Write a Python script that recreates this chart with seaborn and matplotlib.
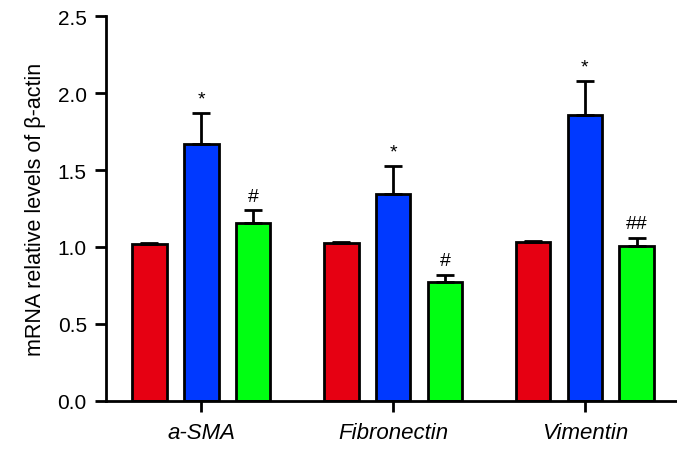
import pandas as pd
import seaborn as sns
import matplotlib.pyplot as plt

# Data
genes = ["a-SMA", "Fibronectin", "Vimentin"]
groups = ["Control", "Model", "Treatment"]
control = [1.02, 1.025, 1.03]
model = [1.67, 1.345, 1.855]
treatment = [1.155, 0.772, 1.005]
control_err = [0.006, 0.005, 0.007]
model_err = [0.20, 0.18, 0.225]
treatment_err = [0.085, 0.048, 0.055]
marks_model = ["*", "*", "*"]
marks_treatment = ["#", "#", "##"]

colors = ["#e60012", "#0039ff", "#00ff12"]

df = pd.DataFrame({
    "gene": genes * 3,
    "group": [g for g in groups for _ in genes],
    "value": control + model + treatment,
})

sns.set_style("ticks", {"axes.edgecolor": "black", "text.color": "black",
                        "axes.labelcolor": "black", "xtick.color": "black",
                        "ytick.color": "black"})
plt.rcParams["font.family"] = ["Liberation Sans", "DejaVu Sans"]

fig = plt.figure(figsize=(6.77, 4.52), dpi=100)
ax = fig.add_axes([0.157, 0.111, 0.843, 0.851])

sns.barplot(data=df, x="gene", y="value", hue="group", palette=colors,
            order=genes, hue_order=groups, errorbar=None, width=0.81, gap=0.33,
            edgecolor="black", linewidth=2, saturation=1, legend=False, ax=ax)

errs = [control_err, model_err, treatment_err]
marks = [None, marks_model, marks_treatment]
for cont, err, mk in zip(ax.containers, errs, marks):
    for i, bar in enumerate(cont):
        x = bar.get_x() + bar.get_width() / 2
        h = bar.get_height()
        ax.errorbar(x, h, yerr=[[0], [err[i]]], fmt="none", ecolor="black",
                    elinewidth=2, capsize=6.5, capthick=2, zorder=1)
        if mk is not None:
            ax.text(x, h + err[i] + 0.035, mk[i], ha="center", va="bottom",
                    fontsize=14, color="black")

ax.set_ylim(0, 2.5)
ax.set_xlim(-0.495, 2.48)
ax.set_yticks([0.0, 0.5, 1.0, 1.5, 2.0, 2.5])
ax.set_yticklabels(["0.0", "0.5", "1.0", "1.5", "2.0", "2.5"])
ax.set_xlabel("")
ax.set_ylabel("mRNA relative levels of β-actin", fontsize=15.5, labelpad=8)
ax.tick_params(axis="y", length=8, width=2, labelsize=15, pad=6)
ax.tick_params(axis="x", length=8, width=2, labelsize=16, pad=7)
for lab in ax.get_xticklabels():
    lab.set_fontstyle("italic")
for s in ["top", "right"]:
    ax.spines[s].set_visible(False)
for s in ["left", "bottom"]:
    ax.spines[s].set_linewidth(2)

fig.savefig("out.png", dpi=100)
